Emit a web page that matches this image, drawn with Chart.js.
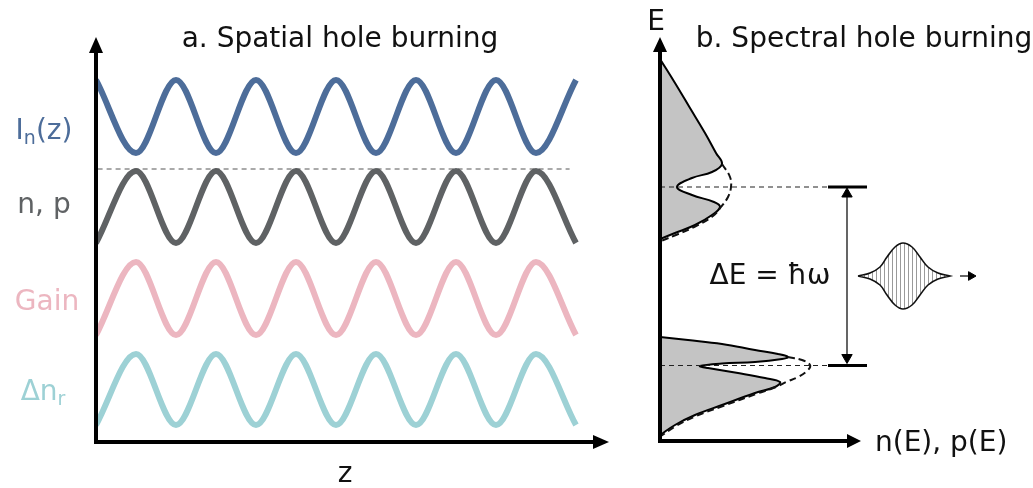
<!DOCTYPE html>
<html lang="en">
<head>
<meta charset="UTF-8">
<title>Spatial and spectral hole burning</title>
<script src="https://cdn.jsdelivr.net/npm/chart.js"></script>
<style>
body{margin:0;background:#fff;overflow:hidden;}
.panel{position:absolute;left:0;top:0;width:1033px;height:488px;}
</style>
</head>
<body>
<div class="panel"><canvas id="spatialChart"></canvas></div>
<div class="panel"><canvas id="spectralChart"></canvas></div>
<script>
// a. spatial hole burning - value at every crest / trough along z
const zPos      = [0, 0.5, 1, 1.5, 2, 2.5, 3, 3.5, 4, 4.5, 5, 5.5, 6];
const intensity = [36.2, 28.9, 36.2, 28.9, 36.2, 28.9, 36.2, 28.9, 36.2, 28.9, 36.2, 28.9, 36.2];
const carriers  = [19.9, 27.1, 19.9, 27.1, 19.9, 27.1, 19.9, 27.1, 19.9, 27.1, 19.9, 27.1, 19.9];
const gain      = [10.7, 18.0, 10.7, 18.0, 10.7, 18.0, 10.7, 18.0, 10.7, 18.0, 10.7, 18.0, 10.7];
const dIndex    = [1.7, 8.8, 1.7, 8.8, 1.7, 8.8, 1.7, 8.8, 1.7, 8.8, 1.7, 8.8, 1.7];
const refZ = [0.02, 5.92];
const refLevel = 27.3;

// b. spectral hole burning - occupancy n against energy E
const electronE = [38.2, 35.8, 33.3, 30.8, 28.8, 27.7, 26.9, 26.3, 25.4, 24.6, 23.9, 23.4, 22.6, 21.6, 20.8, 20.2];
const electronN = [0, 0.75, 1.5, 2.25, 2.8, 3.1, 2.6, 1.6, 0.85, 1.6, 2.7, 3.0, 2.6, 1.75, 0.75, 0];
const electronUnburntE = [27.7, 26.4, 25.4, 24.4, 23.4, 22.5, 21.5, 20.6, 20.0];
const electronUnburntN = [3.1, 3.5, 3.55, 3.4, 3.05, 2.65, 1.8, 0.8, 0.05];
const holeE = [10.4, 10.1, 9.7, 9.1, 8.7, 8.4, 8.2, 7.9, 7.75, 7.5, 7.3, 6.8, 6.3, 5.9, 5.4, 4.8, 3.6, 2.6, 1.6, 0.6];
const holeN = [0, 1.4, 3.1, 4.75, 5.9, 6.4, 6.1, 4.75, 3.1, 2.0, 2.4, 3.9, 5.25, 6.0, 5.75, 4.75, 3.1, 1.75, 0.75, 0];
const holeUnburntE = [8.4, 8.1, 7.6, 7.1, 6.4, 5.9, 5.4, 4.7, 3.5, 2.5, 1.5, 0.5];
const holeUnburntN = [6.4, 7.1, 7.5, 7.4, 6.9, 6.3, 5.8, 4.8, 3.15, 1.8, 0.8, 0.05];
const burnLevels = [25.4, 7.55];      // energies of the two spectral holes
const levelLineN = [0, 8.4];          // dashed guide
const levelMarkN = [8.4, 10.35];      // short solid marker
const gapN = 9.35;
const gapE = [24.7, 8.35];
// optical pulse (photon of energy ħω) travelling to the right
const pulseN     = [9.9, 10.5, 11.0, 11.35, 11.75, 12.15, 12.6, 13.0, 13.4, 13.9, 14.5];
const pulseUpper = [16.5, 16.8, 17.4, 18.4, 19.4, 19.8, 19.4, 18.4, 17.4, 16.8, 16.5];
const pulseLower = [16.5, 16.2, 15.6, 14.6, 13.6, 13.2, 13.6, 14.6, 15.6, 16.2, 16.5];
const pulseArrowN = [15.0, 15.55];
const pulseE = 16.5;

const FONT = "'DejaVu Sans', Verdana, sans-serif";
const BLUE = '#4d6d9a', GREY = '#5f6264', PINK = '#ecb6c0', TEAL = '#9dd1d5', FILL = '#c4c4c4';

function pts(xs, ys) { return xs.map((x, i) => ({x: x, y: ys[i]})); }

function arrowUp(ctx, x, tipY, len, half) {
  ctx.beginPath(); ctx.moveTo(x, tipY); ctx.lineTo(x - half, tipY + len); ctx.lineTo(x + half, tipY + len); ctx.closePath(); ctx.fill();
}
function arrowRight(ctx, tipX, y, len, half) {
  ctx.beginPath(); ctx.moveTo(tipX, y); ctx.lineTo(tipX - len, y - half); ctx.lineTo(tipX - len, y + half); ctx.closePath(); ctx.fill();
}

// text with subscripts: parts = [[text, isSub], ...], centred on cx
function richText(ctx, parts, cx, baseline, color) {
  const big = '28px ' + FONT, small = '19px ' + FONT;
  let w = 0;
  parts.forEach(p => { ctx.font = p[1] ? small : big; w += ctx.measureText(p[0]).width; });
  let x = cx - w / 2;
  ctx.fillStyle = color; ctx.textAlign = 'left'; ctx.textBaseline = 'alphabetic';
  parts.forEach(p => {
    ctx.font = p[1] ? small : big;
    ctx.fillText(p[0], x, baseline + (p[1] ? 5 : 0));
    x += ctx.measureText(p[0]).width;
  });
}

// thin vertical strokes used inside the pulse envelope
function hatch() {
  const c = document.createElement('canvas'); c.width = 4; c.height = 8;
  const g = c.getContext('2d');
  g.fillStyle = '#ffffff'; g.fillRect(0, 0, 4, 8);
  g.fillStyle = '#9a9a9a'; g.fillRect(0, 0, 1, 8);
  return g.createPattern(c, 'repeat');
}

const spatialDecor = {
  id: 'spatialDecor',
  afterDatasetsDraw(chart) {
    const {ctx, chartArea: a} = chart;
    ctx.save();
    ctx.fillStyle = '#000'; ctx.strokeStyle = '#000'; ctx.lineWidth = 4;
    ctx.beginPath(); ctx.moveTo(a.left, a.bottom + 2); ctx.lineTo(a.left, a.top + 10); ctx.stroke();
    ctx.beginPath(); ctx.moveTo(a.left - 2, a.bottom); ctx.lineTo(a.right - 14, a.bottom); ctx.stroke();
    arrowUp(ctx, a.left, a.top - 5, 16, 7);
    arrowRight(ctx, a.right + 1, a.bottom, 16, 7);

    ctx.fillStyle = '#111'; ctx.font = '28px ' + FONT; ctx.textAlign = 'center'; ctx.textBaseline = 'alphabetic';
    ctx.fillText('a. Spatial hole burning', 340, 47);
    ctx.fillText('z', 345, 482);

    richText(ctx, [['I', false], ['n', true], ['(z)', false]], 44, 139, BLUE);
    richText(ctx, [['n, p', false]], 44, 213, GREY);
    richText(ctx, [['Gain', false]], 47, 310, PINK);
    richText(ctx, [['\u0394n', false], ['r', true]], 43, 400, TEAL);
    ctx.restore();
  }
};

const spectralDecor = {
  id: 'spectralDecor',
  afterDatasetsDraw(chart) {
    const {ctx, chartArea: a, scales} = chart;
    const axisEnd = scales.x.getPixelForValue(10);
    ctx.save();
    ctx.fillStyle = '#000'; ctx.strokeStyle = '#000'; ctx.lineWidth = 4;
    ctx.beginPath(); ctx.moveTo(a.left, a.bottom + 2); ctx.lineTo(a.left, a.top + 10); ctx.stroke();
    ctx.beginPath(); ctx.moveTo(a.left - 2, a.bottom); ctx.lineTo(axisEnd - 13, a.bottom); ctx.stroke();
    arrowUp(ctx, a.left, a.top - 4, 15, 7);
    arrowRight(ctx, axisEnd + 1, a.bottom, 14, 7);

    ctx.fillStyle = '#111'; ctx.font = '28px ' + FONT; ctx.textBaseline = 'alphabetic';
    ctx.textAlign = 'center';
    ctx.fillText('E', 656, 30);
    ctx.fillText('b. Spectral hole burning', 864, 47);
    ctx.fillText('\u0394E = \u0127\u03c9', 770, 284);
    ctx.textAlign = 'left';
    ctx.fillText('n(E), p(E)', 875, 451);
    ctx.restore();
  }
};

const base = {
  responsive: true,
  maintainAspectRatio: false,
  animation: false,
  events: [],
  plugins: {legend: {display: false}, tooltip: {enabled: false}, title: {display: false}},
  elements: {point: {radius: 0}, line: {capBezierPoints: false}}
};

function wave(xs, ys, color) {
  return {data: pts(xs, ys), borderColor: color, borderWidth: 6, cubicInterpolationMode: 'monotone', fill: false};
}

new Chart(document.getElementById('spatialChart'), {
  type: 'line',
  data: {
    datasets: [
      {data: pts(refZ, [refLevel, refLevel]), borderColor: '#555', borderWidth: 1, borderDash: [5, 4], fill: false},
      wave(zPos, intensity, BLUE),
      wave(zPos, carriers, GREY),
      wave(zPos, gain, PINK),
      wave(zPos, dIndex, TEAL)
    ]
  },
  options: Object.assign({}, base, {
    layout: {padding: {left: 96, right: 425, top: 42, bottom: 46}},
    scales: {
      x: {type: 'linear', min: 0, max: 6.4, display: false},
      y: {type: 'linear', min: 0, max: 40, display: false}
    }
  }),
  plugins: [spatialDecor]
});

const pulseOutline = pts(pulseN, pulseUpper).concat(pts(pulseN.slice().reverse(), pulseLower.slice().reverse()));

new Chart(document.getElementById('spectralChart'), {
  type: 'line',
  data: {
    datasets: [
      {data: pts(levelLineN, [burnLevels[0], burnLevels[0]]), borderColor: '#222', borderWidth: 1.2, borderDash: [5, 4], fill: false, clip: false},
      {data: pts(levelLineN, [burnLevels[1], burnLevels[1]]), borderColor: '#222', borderWidth: 1.2, borderDash: [5, 4], fill: false, clip: false},
      {data: pts(levelMarkN, [burnLevels[0], burnLevels[0]]), borderColor: '#000', borderWidth: 3, fill: false, clip: false},
      {data: pts(levelMarkN, [burnLevels[1], burnLevels[1]]), borderColor: '#000', borderWidth: 3, fill: false, clip: false},
      {data: pts([gapN, gapN], gapE), borderColor: '#000', borderWidth: 1.2, fill: false, clip: false,
       pointRadius: 6, pointStyle: 'triangle', pointRotation: [0, 180], pointBackgroundColor: '#000', pointBorderColor: '#000', pointBorderWidth: 1},
      {data: pts(pulseArrowN, [pulseE, pulseE]), borderColor: '#000', borderWidth: 1.2, fill: false, clip: false,
       pointRadius: [0, 5], pointStyle: 'triangle', pointRotation: [0, 90], pointBackgroundColor: '#000', pointBorderColor: '#000', pointBorderWidth: 1},
      {data: pulseOutline, borderColor: '#111', borderWidth: 1.6, tension: 0.4, fill: 'shape', backgroundColor: hatch(), clip: false},
      {data: pts(electronUnburntN, electronUnburntE), borderColor: '#111', borderWidth: 2, borderDash: [7, 4], tension: 0.4, fill: false},
      {data: pts(holeUnburntN, holeUnburntE), borderColor: '#111', borderWidth: 2, borderDash: [7, 4], tension: 0.4, fill: false},
      {data: pts(electronN, electronE), borderColor: '#000', borderWidth: 2, tension: 0.4, fill: 'origin', backgroundColor: FILL},
      {data: pts(holeN, holeE), borderColor: '#000', borderWidth: 2, tension: 0.4, fill: 'origin', backgroundColor: FILL}
    ]
  },
  options: Object.assign({}, base, {
    indexAxis: 'y',
    layout: {padding: {left: 660, right: 33, top: 41, bottom: 47}},
    scales: {
      x: {type: 'linear', min: 0, max: 17, display: false},
      y: {type: 'linear', min: 0, max: 40, display: false}
    }
  }),
  plugins: [spectralDecor]
});
</script>
</body>
</html>
